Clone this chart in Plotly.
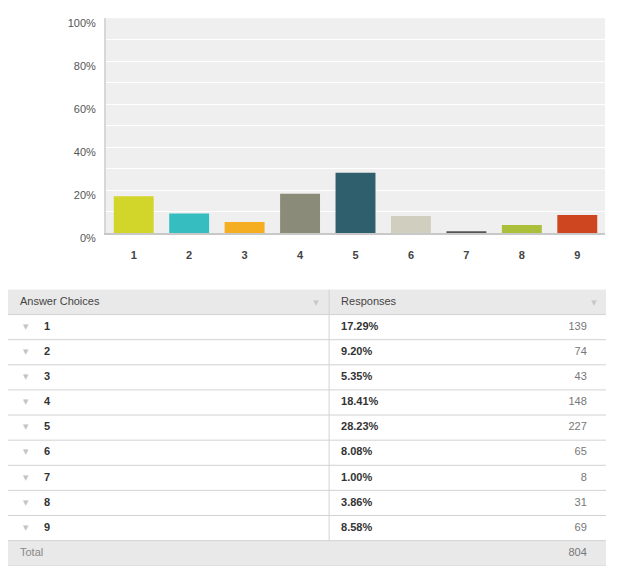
import plotly.graph_objects as go

# survey answer choices and results
choices = ["1", "2", "3", "4", "5", "6", "7", "8", "9"]
shares = [17.29, 9.20, 5.35, 18.41, 28.23, 8.08, 1.00, 3.86, 8.58]
counts = [139, 74, 43, 148, 227, 65, 8, 31, 69]
total = 804
bar_colors = ["#d2d52a", "#36bdbf", "#f5ad22", "#8b8b79", "#2f5f6d",
              "#d0cebf", "#555555", "#abbf3a", "#cd461f"]
y_ticks = [0, 0.2, 0.4, 0.6, 0.8, 1.0]
y_labels = ["0%", "20%", "40%", "60%", "80%", "100%"]

FONT = "Liberation Sans, Arial, sans-serif"
# page body has an 8px margin; the page comes out slightly squashed vertically
OFF = 8
VS = 0.978
W, H = 621 - 2 * OFF, 571


def px_x(v):
    return (v - OFF) / W


def px_y(v):
    return 1 - (v / VS - OFF) / H


fig = go.Figure()

# bar chart on top
fig.add_trace(go.Bar(
    x=choices, y=[s / 100 for s in shares],
    marker=dict(color=bar_colors, line=dict(width=0)),
    width=0.72, hoverinfo="skip", showlegend=False,
))

# table drawn on a second pair of axes, one unit per row
n_rows = len(choices) + 2  # header + choices + total
x_choice_tri, x_choice, x_div = 0.025, 0.06, 0.537
x_resp, x_count = 0.557, 0.968

row_y = [i + 1.5 for i in range(len(choices))]
fig.add_trace(go.Scatter(
    x=[x_choice_tri] * len(choices), y=row_y, mode="text", text=["▼"] * len(choices),
    textposition="middle right", textfont=dict(size=7, color="#c4c4c4", family="DejaVu Sans"),
    xaxis="x2", yaxis="y2", hoverinfo="skip", showlegend=False,
))
fig.add_trace(go.Scatter(
    x=[x_choice] * len(choices), y=row_y, mode="text",
    text=["<b>%s</b>" % c for c in choices], textposition="middle right",
    textfont=dict(size=11, color="#333333", family=FONT),
    xaxis="x2", yaxis="y2", hoverinfo="skip", showlegend=False,
))
fig.add_trace(go.Scatter(
    x=[x_resp] * len(choices), y=row_y, mode="text",
    text=["<b>%.2f%%</b>" % s for s in shares], textposition="middle right",
    textfont=dict(size=11, color="#333333", family=FONT),
    xaxis="x2", yaxis="y2", hoverinfo="skip", showlegend=False,
))
fig.add_trace(go.Scatter(
    x=[x_count] * (len(choices) + 1), y=row_y + [n_rows - 0.5], mode="text",
    text=[str(c) for c in counts] + [str(total)], textposition="middle left",
    textfont=dict(size=11, color="#777777", family=FONT),
    xaxis="x2", yaxis="y2", hoverinfo="skip", showlegend=False,
))
# header + total labels
fig.add_trace(go.Scatter(
    x=[0.02, x_resp, 0.02], y=[0.5, 0.5, n_rows - 0.5], mode="text",
    text=["Answer Choices", "Responses", "Total"], textposition="middle right",
    textfont=dict(size=11, color=["#444444", "#444444", "#888888"], family=FONT),
    xaxis="x2", yaxis="y2", hoverinfo="skip", showlegend=False,
))
fig.add_trace(go.Scatter(
    x=[0.515, 0.98], y=[0.55, 0.55], mode="text", text=["▼", "▼"],
    textposition="middle center", textfont=dict(size=7, color="#c8c8c8", family="DejaVu Sans"),
    xaxis="x2", yaxis="y2", hoverinfo="skip", showlegend=False,
))

shapes = []
# white body of the table (plot_bgcolor is grey for both subplots)
shapes.append(dict(type="rect", xref="x2", yref="y2", x0=0, x1=1, y0=0, y1=n_rows,
                   fillcolor="white", line=dict(width=0), layer="below"))
shapes.append(dict(type="rect", xref="x2", yref="y2", x0=0, x1=1, y0=0, y1=1,
                   fillcolor="#e9e9e9", line=dict(width=0), layer="below"))
shapes.append(dict(type="rect", xref="x2", yref="y2", x0=0, x1=1, y0=n_rows - 1, y1=n_rows,
                   fillcolor="#e9e9e9", line=dict(width=0), layer="below"))
for i in range(1, n_rows + 1):
    shapes.append(dict(type="line", xref="x2", yref="y2", x0=0, x1=1, y0=i, y1=i,
                       line=dict(color="#d2d2d2", width=1)))
shapes.append(dict(type="line", xref="x2", yref="y2", x0=x_div, x1=x_div, y0=0, y1=n_rows - 1,
                   line=dict(color="#d2d2d2", width=1)))

fig.update_layout(
    width=W, height=H,
    margin=dict(l=0, r=0, t=0, b=0),
    paper_bgcolor="white",
    plot_bgcolor="#efefef",
    font=dict(family=FONT, size=11, color="#555555"),
    bargap=0.28,
    shapes=shapes,
    xaxis=dict(
        domain=[px_x(106), px_x(605)], type="category",
        showline=True, linecolor="#c8c8c8", linewidth=2,
        ticks="", ticklabelstandoff=10,
        tickfont=dict(size=11, color="#444444", family="Liberation Sans, Arial", weight="bold"),
        fixedrange=True,
    ),
    yaxis=dict(
        domain=[px_y(232), px_y(17)], range=[0, 1],
        tickvals=y_ticks, ticktext=y_labels,
        showgrid=True, gridcolor="white", gridwidth=1,
        minor=dict(dtick=0.1, showgrid=True, gridcolor="white", gridwidth=1),
        showline=True, linecolor="#d8d8d8", linewidth=2,
        zeroline=False, ticks="", ticklabelstandoff=6, ticklabelshift=5,
        tickfont=dict(size=11, color="#555555"),
        fixedrange=True,
    ),
    xaxis2=dict(domain=[px_x(8), px_x(606)], range=[0, 1], visible=False, anchor="y2",
                fixedrange=True),
    yaxis2=dict(domain=[px_y(564), px_y(288)], range=[n_rows, 0], visible=False,
                anchor="x2", fixedrange=True),
)

fig.write_html("out.html")
